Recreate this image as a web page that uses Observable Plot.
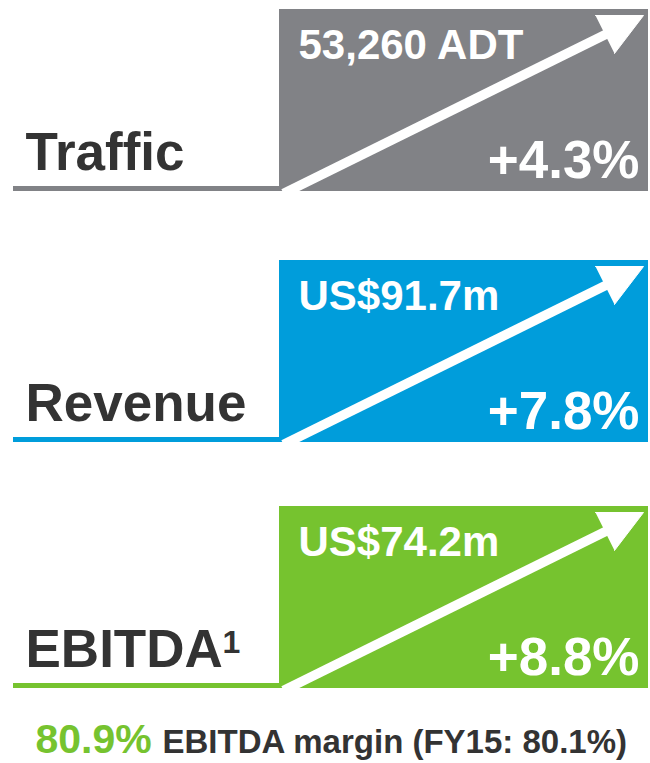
<!DOCTYPE html>
<html>
<head>
<meta charset="utf-8">
<script src="https://cdn.jsdelivr.net/npm/d3@7"></script>
<script src="https://cdn.jsdelivr.net/npm/@observablehq/plot@0.6"></script>
<style>
  html, body { margin: 0; padding: 0; background: #fff; }
  svg { display: block; }
</style>
</head>
<body>
<div id="chart"></div>
<script>
// ---- data ----
const metrics = ["Traffic", "Revenue", "EBITDA"];
const values = ["53,260 ADT", "US$91.7m", "US$74.2m"];
const growth = [4.3, 7.8, 8.8];
const footnotes = ["", "", "1"];
const colors = ["#818286", "#009ddb", "#76c32f"];
const marginPct = 80.9;
const priorMarginPct = 80.1;
const priorYear = "FY15";

// ---- layout ----
const W = 650, H = 763;
const font = "'Liberation Sans', Arial, Helvetica, sans-serif";
const panelTops = [9, 260, 506];
const panelH = 182;
const boxL = 279, boxR = 648;

const rows = metrics.map((m, i) => ({
  metric: m, value: values[i], growth: growth[i], sup: footnotes[i],
  color: colors[i], top: panelTops[i]
}));

const tri = rows.flatMap(d => [
  {metric: d.metric, x: 595, y: d.top + 6},
  {metric: d.metric, x: 643, y: d.top + 6},
  {metric: d.metric, x: 614, y: d.top + 44}
]);

const chart = Plot.plot({
  width: W, height: H,
  margin: 0,
  x: {domain: [0, W], range: [0, W], axis: null},
  y: {domain: [0, H], range: [0, H], axis: null},
  color: {type: "identity"},
  style: {fontFamily: font, background: "#fff"},
  marks: [
    Plot.rect(rows, {x1: boxL, x2: boxR, y1: "top", y2: d => d.top + panelH, fill: "color"}),
    Plot.rect(rows, {x1: 13, x2: boxL + 1, y1: d => d.top + 177, y2: d => d.top + 182, fill: "color"}),
    Plot.link(rows, {x1: 283, y1: d => d.top + 184, x2: 607, y2: d => d.top + 24, stroke: "white", strokeWidth: 9.5}),
    Plot.line(tri, {x: "x", y: "y", z: "metric", fill: "white", stroke: "white", strokeWidth: 1}),
    Plot.text(rows, {x: 25, y: d => d.top + 160, text: "metric", textAnchor: "start", lineAnchor: "bottom",
      fontSize: 53, fontWeight: "bold", fill: "#333333", fontFamily: font}),
    Plot.text(rows.filter(d => d.sup), {x: 222, y: d => d.top + 146, text: "sup", textAnchor: "start", lineAnchor: "bottom",
      fontSize: 32, fontWeight: "bold", fill: "#333333", fontFamily: font}),
    Plot.text(rows, {x: 298, y: d => d.top + 49, text: "value", textAnchor: "start", lineAnchor: "bottom",
      fontSize: 42, fontWeight: "bold", fill: "white", fontFamily: font}),
    Plot.text(rows, {x: 639, y: d => d.top + 168, text: d => `+${d.growth.toFixed(1)}%`, textAnchor: "end", lineAnchor: "bottom",
      fontSize: 53, fontWeight: "bold", fill: "white", fontFamily: font}),
    Plot.text([marginPct], {x: 35, y: 752, text: d => `${d.toFixed(1)}%`, textAnchor: "start", lineAnchor: "bottom",
      fontSize: 41, fontWeight: "bold", fill: colors[2], fontFamily: font}),
    Plot.text([priorMarginPct], {x: 162, y: 752, text: d => `EBITDA margin (${priorYear}: ${d.toFixed(1)}%)`, textAnchor: "start", lineAnchor: "bottom",
      fontSize: 33, fontWeight: "bold", fill: "#333333", fontFamily: font})
  ]
});
document.getElementById("chart").appendChild(chart);
</script>
</body>
</html>
